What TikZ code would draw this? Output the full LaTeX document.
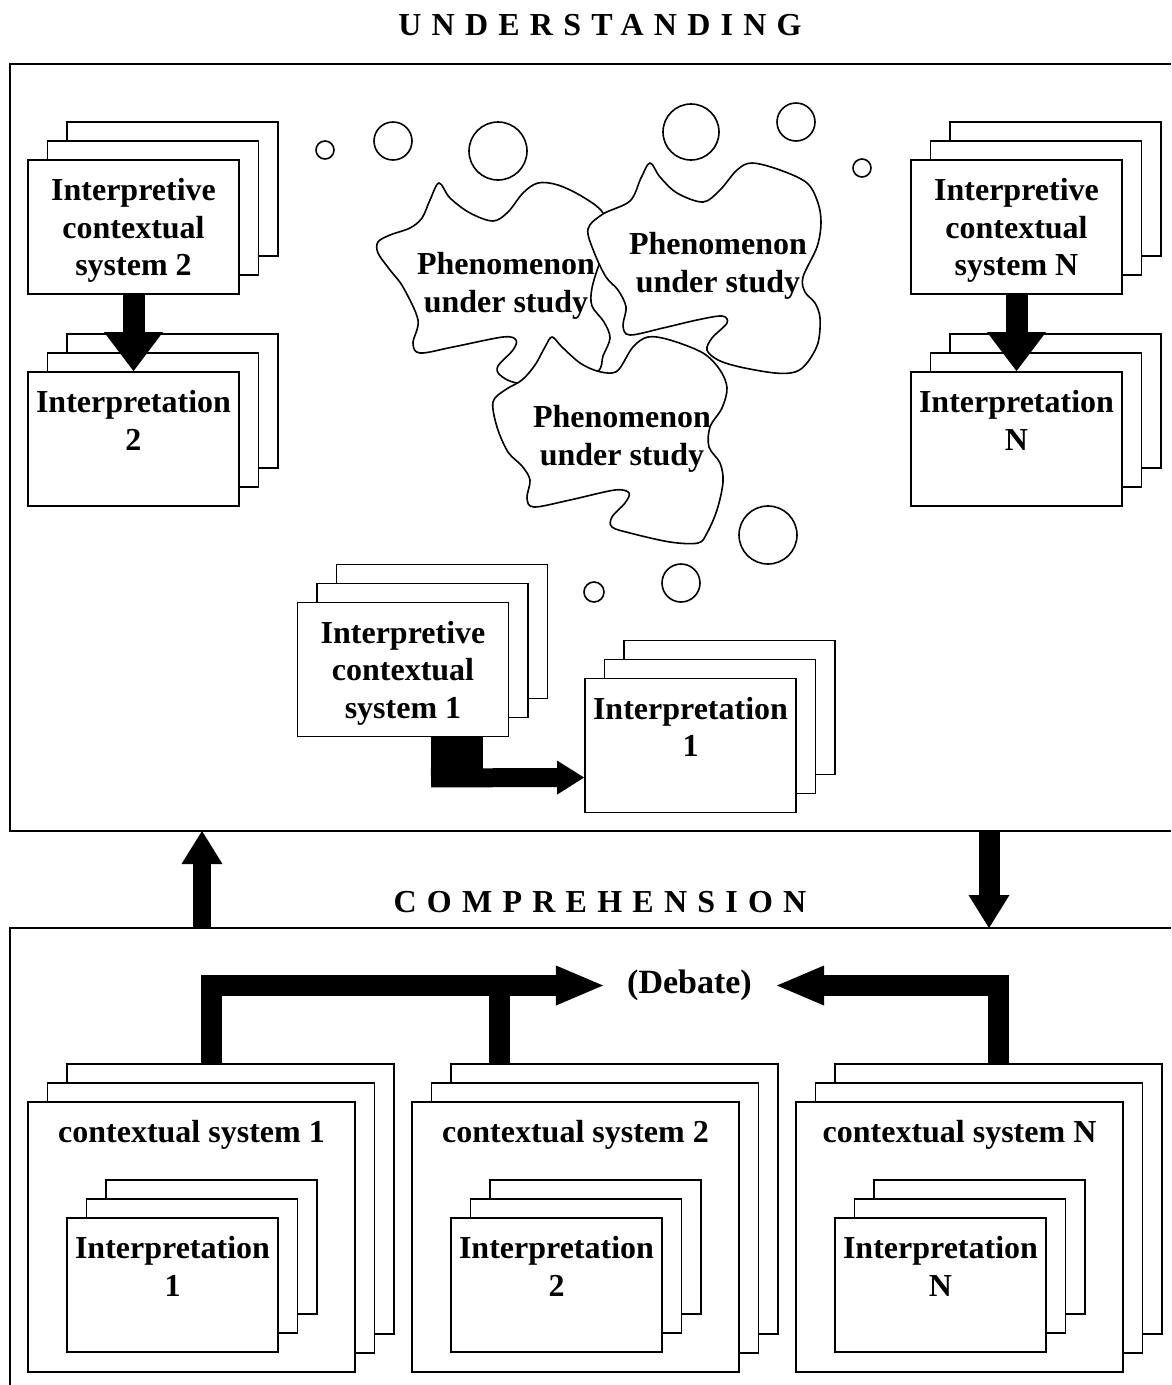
\documentclass[tikz,border=0pt]{standalone}
\usepackage{fontspec}
\setmainfont{Liberation Serif}
\usetikzlibrary{
  arrows.meta,
  calc,
  shadows,
  positioning
}
\tikzset{
  % Rahmen
  frameline/.style = {line width=2pt},
  % Karten (drei hintereinander)
  card/.style      = {draw, line width=1.8pt, fill=white, inner sep=0pt,
                      minimum width=211pt, minimum height=134pt,
                      copy shadow={shadow xshift=39pt, shadow yshift=38pt, line width=1.8pt},
                      copy shadow={shadow xshift=19.5pt, shadow yshift=19pt, line width=1.8pt}},
  bigcard/.style   = {card, minimum width=327pt, minimum height=270pt},
  cardtext/.style  = {label={[lab, anchor=north, yshift=-19pt]north:{#1}}},
  % Texte
  lab/.style       = {font=\fontsize{32}{37.5}\selectfont\bfseries, align=center, inner sep=0pt},
  head/.style      = {font=\fontsize{32}{38}\selectfont\bfseries, inner sep=0pt},
  % Wolken und Blasen
  cloudline/.style = {line width=1.6pt, fill=white},
  bubble/.style    = {line width=1.6pt},
  % Pfeile
  fatdown/.style   = {line width=22pt, -{Triangle[length=39pt, width=59pt, line width=0pt]}},
  fatlink/.style   = {line width=19pt, -{Triangle[length=33pt, width=41pt, line width=0pt]}},
  elbowarr/.style  = {line width=19pt, -{Triangle[length=27pt, width=34pt, line width=0pt]}},
  debatebar/.style = {line width=21pt, -{Triangle[length=47pt, width=40pt, line width=0pt]}},
}

\begin{document}
\begin{tikzpicture}[x=1pt, y=-1pt]
  \useasboundingbox (0,0) rectangle (1171,1385);
  % Rahmen
  \draw[frameline] (1171,64) -| (10,831) -- (1171,831);
  \draw[frameline] (1171,928) -| (10,1385);
  \node[head] (under) at (600,25) {\addfontfeature{LetterSpace=32}UNDERSTANDING};
  \node[head] (compr) at (600,902) {\addfontfeature{LetterSpace=32}COMPREHENSION};

  % Blasen
  \foreach \cx/\cy/\r in {325/150/9, 393/141/19, 498/151/29, 691/132/28, 796/122/19,
                          862/168/9, 768/535/29, 681/583/19, 594/592/10}
    \draw[bubble] (\cx,\cy) circle [radius=\r pt];

  % Wolken
  \draw[cloudline] plot[smooth cycle, tension=0.55] coordinates {
    (439,183) (450,198) (470,213) (493,221) (508,212) (523,193) (538,183)
    (558,185) (583,197) (603,213) (610,240) (600,262) (592,288) (592,306)
    (604,322) (610,338) (603,356) (597,372) (560,386) (517,383) (500,375)
    (498,366) (513,350) (516,340) (503,337) (453,347) (420,353) (413,343)
    (418,320) (403,287) (390,270) (378,253) (378,242) (390,235) (410,228)
    (422,218) (430,200)};
  \draw[cloudline] plot[smooth cycle, tension=0.55] coordinates {
    (650,163) (660,177) (677,193) (703,202) (720,190) (737,170) (752,163)
    (780,170) (807,183) (818,203) (821,223) (817,247) (803,277) (805,292)
    (815,303) (820,318) (818,343) (807,363) (795,372) (775,373) (740,367)
    (718,360) (707,350) (712,338) (727,323) (722,316) (697,320) (663,328)
    (630,335) (623,326) (626,307) (618,290) (606,277) (594,252) (588,229)
    (603,214) (630,201) (641,178)};
  \draw[cloudline] plot[smooth cycle, tension=0.55] coordinates {
    (552,337) (562,347) (580,363) (597,371) (612,373) (620,368) (633,347)
    (648,337) (670,340) (703,353) (720,370) (727,388) (722,408) (710,427)
    (709,447) (720,463) (723,482) (717,510) (707,533) (698,543) (670,542)
    (630,533) (612,527) (612,517) (625,503) (629,493) (615,490) (570,500)
    (534,507) (527,498) (530,480) (522,466) (508,452) (497,427) (493,402)
    (505,390) (522,380) (535,365) (545,347)};
  \node[lab] (phenA) at (506,286) {Phenomenon\\under study};
  \node[lab] (phenB) at (718,266) {Phenomenon\\under study};
  \node[lab] (phenC) at (622,439) {Phenomenon\\under study};

  % Oben: Systeme und Interpretationen
  \node[card, cardtext={Interpretive\\contextual\\system 2}] (ic2) at (133.5,227) {};
  \node[card, cardtext={Interpretation\\2}] (int2) at (133.5,439) {};
  \node[card, cardtext={Interpretive\\contextual\\system N}] (icN) at (1016.5,227) {};
  \node[card, cardtext={Interpretation\\N}] (intN) at (1016.5,439) {};
  \node[card, cardtext={Interpretive\\contextual\\system 1}] (ic1) at (403,669.5) {};
  \node[card, cardtext={Interpretation\\1}] (int1) at (690.5,745.5) {};
  \draw[fatdown] (ic2.south) -- (int2.north);
  \draw[fatdown] (icN.south) -- (intN.north);
  \fill ($(ic1.south)+(28,0)$) rectangle ($(ic1.south)+(80,50)$);
  \draw[elbowarr] ($(ic1.south)+(28,40.5)$) -- ($(int1.west)+(0,32)$);

  % Zwischen den Rahmen
  \coordinate (upfoot) at (202,928);
  \coordinate (uptip) at (202,831);
  \coordinate (downfoot) at (989,831);
  \coordinate (downtip) at (989,928);
  \draw[fatlink, line width=18pt] (upfoot) -- (uptip);
  \draw[fatlink, line width=21pt] (downfoot) -- (downtip);

  % Unten: Kontextsysteme
  \node[bigcard, cardtext={contextual system 1}] (cs1) at (191.5,1237) {};
  \node[card, cardtext={Interpretation\\1}] (ci1) at (172.5,1285) {};
  \node[bigcard, cardtext={contextual system 2}] (cs2) at (575.5,1237) {};
  \node[card, cardtext={Interpretation\\2}] (ci2) at (556.5,1285) {};
  \node[bigcard, cardtext={contextual system N}] (csN) at (959.5,1237) {};
  \node[card, cardtext={Interpretation\\N}] (ciN) at (940.5,1285) {};

  % Debatte
  \node[lab, font=\fontsize{34}{40}\selectfont\bfseries] (debate) at (689.5,985.5) {(Debate)};
  \coordinate (d1) at ($(cs1.north)+(20,-38)$);
  \coordinate (d2) at ($(cs2.north)+(-76,-38)$);
  \coordinate (dN) at ($(csN.north)+(38.5,-38)$);
  \draw[debatebar] (d1) |- ($(debate.west)+(-24,0)$);
  \draw[debatebar, -] (d2) -- (d2 |- debate.west);
  \draw[debatebar] (dN) |- ($(debate.east)+(25,0)$);
\end{tikzpicture}
\end{document}
